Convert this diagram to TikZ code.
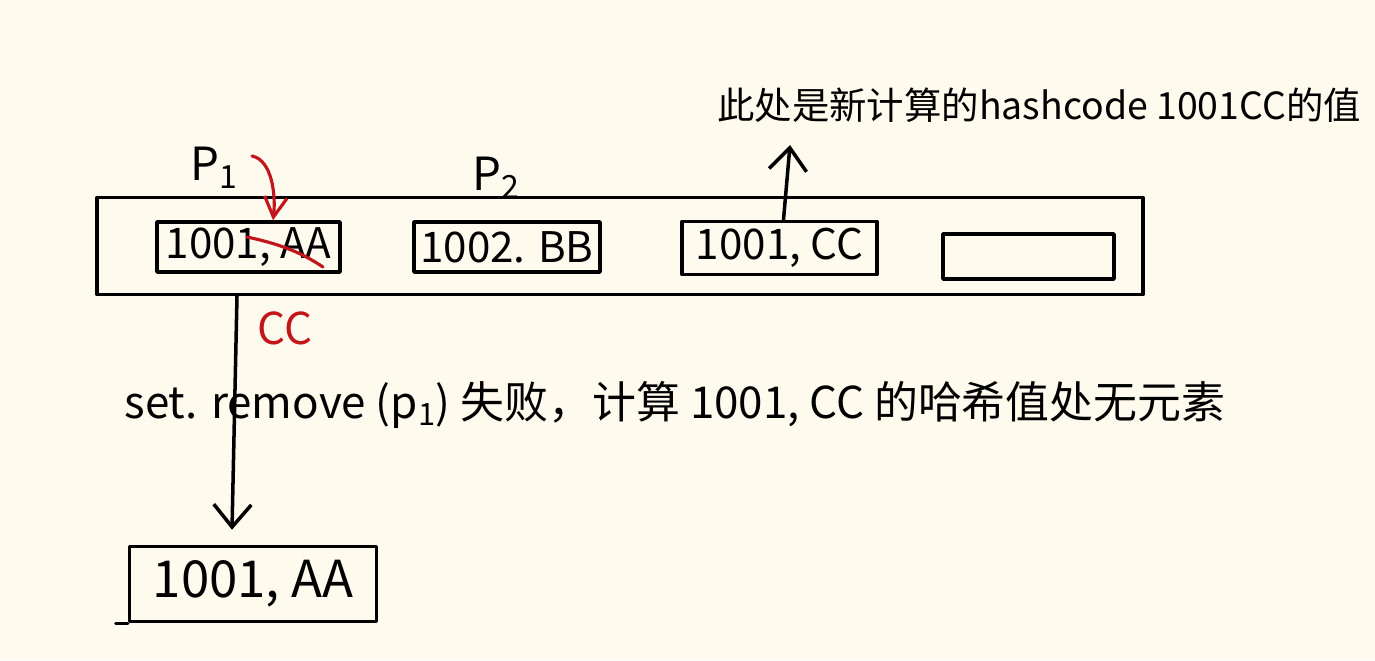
\documentclass[tikz,border=0pt]{standalone}
\usepackage{fontspec}
\usepackage{tikz}
\usetikzlibrary{arrows.meta,positioning,calc}
\newfontfamily\cjk{Noto Sans CJK SC}
\definecolor{paper}{HTML}{FEFBEE}
\definecolor{pen}{HTML}{C3161C}

\begin{document}
\begin{tikzpicture}[x=0.02cm,y=-0.02cm]
  \tikzset{
  	ink/.style={line width=2pt, line cap=round, line join=round},
  	entry/.style={ink, draw, rectangle, inner sep=0pt, font=\cjk\fontsize{24}{29}\selectfont},
  	hand/.style={inner sep=0pt, font=\cjk\fontsize{25}{30}\selectfont},
  	barb/.style={ink, -{Straight Barb[length=0.45cm,width=0.75cm]}},
  }
  \useasboundingbox (0,0) rectangle (1375,660);
  \fill[paper] (0,0) rectangle (1375,660);

  % the table and its slots
  \node[ink, draw, inner sep=0pt, minimum width=20.92cm, minimum height=1.94cm] (arr) at (620,246) {};
  \node[entry, minimum width=3.66cm, minimum height=1cm] (b1) at (248.5,247) {1001, AA};
  \node[entry, minimum width=3.72cm, minimum height=1cm] (b2) at (507,247) {1002. BB};
  \node[entry, minimum width=3.9cm, minimum height=1.06cm] (b3) at (779.5,248) {1001, CC};
  \node[entry, minimum width=3.42cm, minimum height=0.9cm] (b4) at (1028.5,256.5) {};

  % the old entry, below
  \node[entry, font=\cjk\fontsize{29}{34}\selectfont, minimum width=4.94cm, minimum height=1.5cm] (old) at (253,584) {1001, AA};
  \draw[ink] (old.south west) -- ++(-12,0);

  % labels
  \node[hand, font=\cjk\fontsize{26}{31}\selectfont] (p1) at (214,168) {P\textsubscript{1}};
  \node[hand, font=\cjk\fontsize{26}{31}\selectfont] (p2) at (496,178) {P\textsubscript{2}};
  \node[hand, text=pen] (cc) at (285,328) {CC};
  \node[hand, font=\cjk\fontsize{21.3}{26}\selectfont] (note) at (1039,105) {此处是新计算的hashcode 1001CC的值};
  \node[hand] (why) at (675,405) {set. remove (p\textsubscript{1}) 失败，计算 1001, CC 的哈希值处无元素};

  % arrows
  \coordinate (bend) at (252,156);
  \coordinate (drop) at (237,0);
  \coordinate (up) at (790,145);
  \draw[ink, pen, line width=1.8pt, -{Straight Barb[length=0.4cm,width=0.45cm]}]
    (bend) .. controls (272,160) and (276,195) .. ($(b1.north)+(24.5,0)$);
  \draw[ink, pen, line width=1.8pt] (247,237) .. controls (285,245) and (305,255) .. (323,267);
  \draw[barb] (arr.south -| drop) -- ($(old.north -| drop)+(-5,-15)$);
  \draw[barb] ($(b3.north)+(4,0)$) -- (up);
\end{tikzpicture}
\end{document}
